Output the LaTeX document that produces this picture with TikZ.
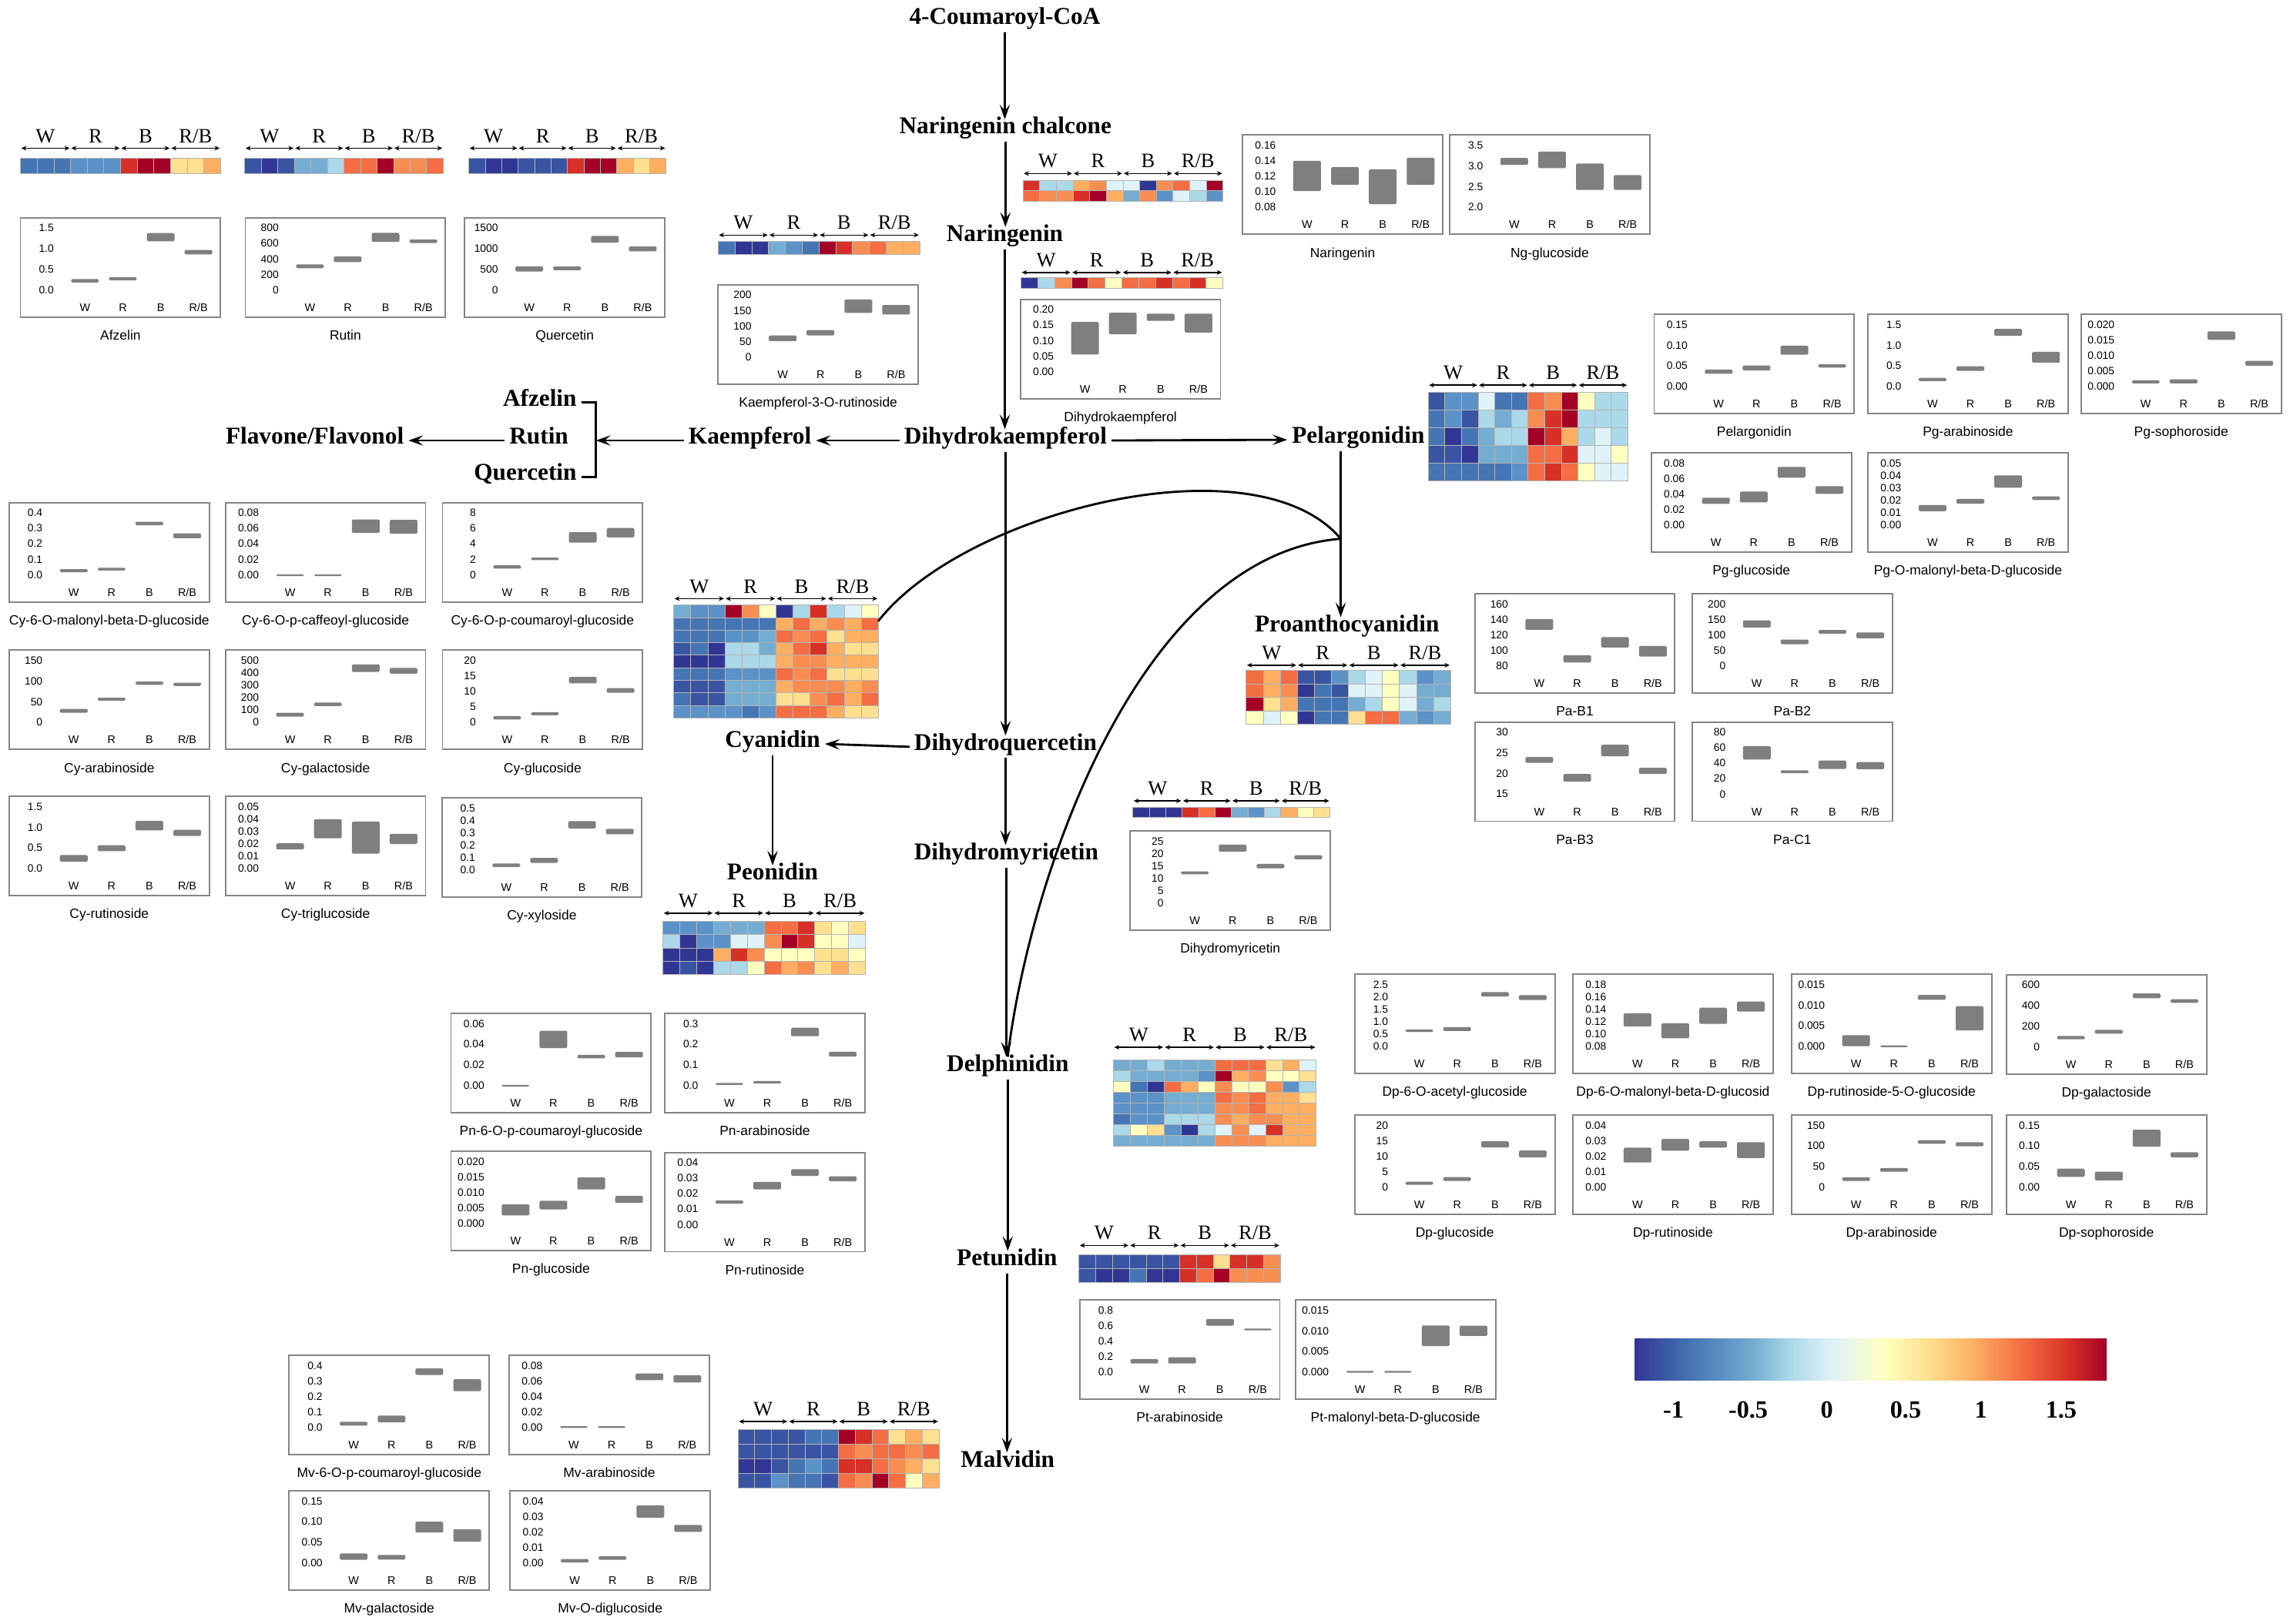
\documentclass[tikz,border=0pt]{standalone}
\usepackage{fontspec}
\setmainfont{Liberation Serif}
\setsansfont{Liberation Sans}
\usetikzlibrary{arrows.meta}
\definecolor{hm0}{HTML}{313695}
\definecolor{hm1}{HTML}{3A54A4}
\definecolor{hm2}{HTML}{4575B4}
\definecolor{hm3}{HTML}{5B92C8}
\definecolor{hm4}{HTML}{74ADD1}
\definecolor{hm5}{HTML}{ABD9E9}
\definecolor{hm6}{HTML}{E0F3F8}
\definecolor{hm7}{HTML}{FFFFBF}
\definecolor{hm8}{HTML}{FEE090}
\definecolor{hm9}{HTML}{FDAE61}
\definecolor{hm10}{HTML}{F88D52}
\definecolor{hm11}{HTML}{F46D43}
\definecolor{hm12}{HTML}{D73027}
\definecolor{hm13}{HTML}{A50026}
\definecolor{gridc}{HTML}{B4B4B4}
\definecolor{frmc}{HTML}{858585}
\definecolor{boxc}{HTML}{7F7F7F}
\pgfdeclarehorizontalshading{cbar}{100bp}{color(0bp)=(hm0); color(25bp)=(hm0); color(31bp)=(hm2); color(37.5bp)=(hm4); color(41.5bp)=(hm5); color(46bp)=(hm6); color(51.5bp)=(hm7); color(56bp)=(hm8); color(61bp)=(hm9); color(66bp)=(hm11); color(71bp)=(hm12); color(75bp)=(hm13); color(100bp)=(hm13)}
\tikzset{
 pw/.style={font=\bfseries\fontsize{16.5}{18}\selectfont, inner sep=3pt, text height=0.68em, text depth=0.22em},
 arr/.style={line width=1.5pt, -{Stealth[length=10pt,width=7pt,inset=4pt]}},
 crv/.style={line width=1.5pt},
 brk/.style={line width=1.5pt},
 frm/.style={draw=frmc, line width=1pt},
 bx/.style={fill=boxc, rounded corners=0.8pt},
 tkl/.style={font=\sffamily\fontsize{7.3}{8}\selectfont, anchor=east, inner sep=0pt},
 xlab/.style={font=\sffamily\fontsize{7.6}{8}\selectfont, anchor=base, inner sep=0pt},
 capt/.style={font=\sffamily\fontsize{9.2}{10}\selectfont, anchor=base, inner sep=0pt},
 cell/.style={draw=gridc, line width=0.35pt},
 hma/.style={line width=0.8pt, {Stealth[length=3.5pt,width=3.2pt]}-{Stealth[length=3.5pt,width=3.2pt]}},
 hml/.style={font=\fontsize{14}{16}\selectfont, anchor=base, inner sep=0pt},
 cbl/.style={font=\bfseries\fontsize{17}{19}\selectfont, anchor=base, inner sep=0pt},
}
% box plot: id, x0, y0, vmin, vmax, ticks, boxes, caption
\newcommand{\bxp}[8]{%
 \pgfmathsetmacro\bk{42.3/(#5-#4)}%
 \draw[frm] (#2,#3) rectangle ++(137,68);
 \foreach \tv [count=\tn] in {#6}{%
   \pgfmathsetmacro\ty{#3+49.4-(\tv-#4)*\bk}%
   \node[tkl] (#1-t\tn) at (#2+23,\ty) {\tv};
 }
 \foreach \blo/\bhi [count=\kk from 0] in {#7}{%
   \pgfmathsetmacro\xa{#2+44.2+25.9*\kk-9.5}%
   \pgfmathsetmacro\ya{#3+49.4-(\bhi-#4)*\bk}%
   \pgfmathsetmacro\yb{max(#3+49.4-(\blo-#4)*\bk,\ya+1.2)}%
   \fill[bx] (\xa,\ya) rectangle (\xa+19,\yb);
 }
 \foreach \gl [count=\kk from 0] in {W,R,B,R/B}{%
   \node[xlab] (#1-x\kk) at (#2+44.2+25.9*\kk,#3+64.1) {\gl};
 }
 \node[capt] (#1-c) at (#2+68.5,#3+83.7) {#8};
}
% heatmap: id, x0, y0, width, row height, arrow offset, rows
\newcommand{\hmp}[7]{%
 \pgfmathsetmacro\cw{#4/12}%
 \pgfmathsetmacro\qw{#4/4}%
 \foreach \row [count=\rr from 0] in {#7}{%
   \foreach \cc [count=\kk from 0] in \row {%
     \filldraw[cell, fill=hm\cc] ({#2+\kk*\cw},{#3+\rr*#5}) rectangle ++(\cw,#5);
   }
 }
 \foreach \gl [count=\kk from 0] in {W,R,B,R/B}{%
   \draw[hma] ({#2+\kk*\qw+0.6},{#3-#6}) -- ({#2+\kk*\qw+\qw-0.6},{#3-#6});
   \node[hml] (#1-l\kk) at ({#2+\kk*\qw+0.5*\qw},{#3-#6-8.5+4.6}) {\gl};
 }
}
\begin{document}
\begin{tikzpicture}[x=1pt,y=-1pt]
\useasboundingbox (0,0) rectangle (1568,1112);
\fill[white] (0,0) rectangle (1568,1112);

% ---------- heatmaps ----------
\hmp{h-afz}{14}{108.5}{137}{10.2}{7}{{2,2,2,3,3,3,12,13,13,8,8,9}}
\hmp{h-rut}{167.6}{108.5}{135.8}{10.2}{7}{{1,0,1,4,4,5,11,11,13,10,10,11}}
\hmp{h-que}{321}{108.5}{135}{10.2}{7}{{1,0,0,1,1,1,12,13,13,9,8,9}}
\hmp{h-chal}{700.4}{123.4}{137}{7.1}{4.6}{{12,5,5,9,10,6,6,0,10,11,6,13},{11,10,10,12,13,9,4,10,3,6,5,3}}
\hmp{h-kae}{491.7}{165.2}{138}{8.8}{4.2}{{2,0,0,4,3,2,13,12,10,11,9,9}}
\hmp{h-dhk}{699}{190.2}{138.3}{7}{3.6}{{0,5,10,13,11,7,11,11,12,11,12,7}}
\hmp{h-pel}{977.9}{268.6}{136.7}{12.1}{4.8}{{1,3,3,6,2,2,11,10,13,7,5,5},{2,3,1,5,4,5,10,12,13,5,5,5},{2,0,2,4,5,5,13,12,9,5,6,5},{1,1,0,4,4,4,11,11,12,6,6,7},{2,2,2,2,2,3,11,12,11,7,6,6}}
\hmp{h-cya}{461.3}{414.3}{140}{8.6}{4.3}{{4,3,3,13,10,7,0,5,12,5,6,7},{2,2,2,2,2,2,9,11,9,10,9,11},{2,2,2,3,3,4,11,10,11,8,9,9},{1,2,0,5,5,4,9,11,12,9,8,8},{0,0,0,5,5,5,9,10,10,9,9,9},{2,2,2,3,3,3,11,10,11,8,8,8},{1,1,1,4,4,4,9,10,10,10,9,10},{2,1,1,4,4,4,8,8,10,11,9,11},{3,3,3,3,2,3,11,11,11,9,8,8}}
\hmp{h-proa}{853.2}{459.2}{140}{9.2}{3.6}{{11,9,11,1,1,3,5,6,7,5,3,4},{11,9,10,0,2,1,6,6,7,6,4,4},{13,8,9,2,2,2,4,5,7,6,4,5},{7,6,7,0,2,2,8,11,11,4,3,4}}
\hmp{h-peo}{453.9}{631}{138.6}{9.1}{5.6}{{3,3,3,4,4,4,11,11,12,8,7,8},{5,0,3,3,6,6,10,13,12,7,7,6},{0,0,0,9,12,10,7,7,7,8,8,7},{0,1,0,5,5,7,11,9,10,8,9,8}}
\hmp{h-dhm}{775.7}{552.9}{135}{7.1}{4.4}{{0,0,0,12,11,13,4,3,5,9,7,8}}
\hmp{h-dlp}{762.3}{726.1}{138.9}{7.36}{8.8}{{4,4,5,4,4,4,11,11,11,8,9,6},{5,4,4,4,4,3,13,9,10,7,7,8},{7,2,0,11,9,7,10,7,7,10,3,5},{3,3,3,4,4,4,11,10,11,9,9,8},{3,3,3,4,4,4,10,10,11,9,9,9},{2,3,3,5,5,5,10,9,10,10,9,9},{5,7,8,3,0,5,6,10,6,12,9,9},{4,4,4,4,4,4,10,10,10,9,9,9}}
\hmp{h-pet}{738.8}{859.3}{137.8}{9.4}{6.3}{{1,1,1,1,1,1,12,12,8,12,12,10},{1,0,0,2,0,0,12,11,13,10,10,10}}
\hmp{h-mal}{505.3}{979.2}{137.6}{10}{5.6}{{1,1,1,1,2,2,13,12,11,8,9,8},{1,1,1,1,1,1,11,10,11,11,10,11},{0,0,1,2,3,2,12,12,11,10,9,8},{1,1,3,2,2,1,11,10,13,11,7,9}}

% ---------- box plots ----------
\bxp{b-afz}{14}{149.1}{0}{1.5}{1.5,1.0,0.5,0.0}{0.18/0.26,0.23/0.31,1.18/1.38,0.86/0.97}{Afzelin}
\bxp{b-rut}{168}{149.1}{0}{800}{800,600,400,200,0}{280/329,359/431,622/737,606/652}{Rutin}
\bxp{b-que}{318.2}{149.1}{0}{1500}{1500,1000,500,0}{446/570,477/564,1147/1308,936/1054}{Quercetin}
\bxp{b-k3r}{491.7}{195}{0}{200}{200,150,100,50,0}{51/69,69/87,142/186,137/168}{Kaempferol-3-O-rutinoside}
\bxp{b-dhk}{698.7}{205}{0}{0.2}{0.20,0.15,0.10,0.05,0.00}{0.055/0.16,0.12/0.19,0.164/0.187,0.126/0.187}{Dihydrokaempferol}
\bxp{b-nar}{850.8}{92.5}{0.08}{0.16}{0.16,0.14,0.12,0.10,0.08}{0.101/0.14,0.109/0.132,0.084/0.129,0.109/0.144}{Naringenin}
\bxp{b-ngg}{992.6}{92.5}{2.0}{3.5}{3.5,3.0,2.5,2.0}{3.026/3.196,2.948/3.351,2.42/3.061,2.42/2.778}{Ng-glucoside}
\bxp{b-pel}{1132.6}{215.3}{0}{0.15}{0.15,0.10,0.05,0.00}{0.031/0.041,0.039/0.051,0.077/0.099,0.046/0.054}{Pelargonidin}
\bxp{b-pga}{1279}{215.3}{0}{1.5}{1.5,1.0,0.5,0.0}{0.13/0.21,0.38/0.49,1.23/1.40,0.58/0.84}{Pg-arabinoside}
\bxp{b-pgs}{1425}{215.3}{0}{0.02}{0.020,0.015,0.010,0.005,0.000}{0.001/0.002,0.001/0.0023,0.0151/0.0178,0.0067/0.0083}{Pg-sophoroside}
\bxp{b-pgg}{1130.7}{310}{0}{0.08}{0.08,0.06,0.04,0.02,0.00}{0.027/0.035,0.029/0.043,0.061/0.075,0.040/0.050}{Pg-glucoside}
\bxp{b-pgm}{1279}{310}{0}{0.05}{0.05,0.04,0.03,0.02,0.01,0.00}{0.011/0.016,0.017/0.021,0.030/0.040,0.020/0.023}{Pg-O-malonyl-beta-D-glucoside}
\bxp{b-cy1}{6.3}{344.2}{0}{0.4}{0.4,0.3,0.2,0.1,0.0}{0.016/0.036,0.027/0.044,0.32/0.343,0.236/0.268}{Cy-6-O-malonyl-beta-D-glucoside}
\bxp{b-cy2}{154.4}{344.2}{0}{0.08}{0.08,0.06,0.04,0.02,0.00}{0/0.0005,0/0.0005,0.054/0.0715,0.053/0.071}{Cy-6-O-p-caffeoyl-glucoside}
\bxp{b-cy3}{303}{344.2}{0}{8}{8,6,4,2,0}{0.78/1.21,1.88/2.2,4.16/5.51,4.84/6.04}{Cy-6-O-p-coumaroyl-glucoside}
\bxp{b-cy4}{6.3}{445.3}{0}{150}{150,100,50,0}{23/32.5,52.4/59.7,90.9/98.9,88.3/96.2}{Cy-arabinoside}
\bxp{b-cy5}{154.4}{445.3}{0}{500}{500,400,300,200,100,0}{46/77,131/159,407/469,394/440}{Cy-galactoside}
\bxp{b-cy6}{303}{445.3}{0}{20}{20,15,10,5,0}{0.88/2.04,2.3/3.27,12.65/14.7,9.56/11.06}{Cy-glucoside}
\bxp{b-cy7}{6.3}{545.4}{0}{1.5}{1.5,1.0,0.5,0.0}{0.16/0.325,0.418/0.564,0.923/1.155,0.79/0.936}{Cy-rutinoside}
\bxp{b-cy8}{154.4}{545.4}{0}{0.05}{0.05,0.04,0.03,0.02,0.01,0.00}{0.0154/0.0203,0.0244/0.0399,0.0119/0.0379,0.0198/0.028}{Cy-triglucoside}
\bxp{b-cy9}{302.5}{546.3}{0}{0.5}{0.5,0.4,0.3,0.2,0.1,0.0}{0.022/0.05,0.055/0.096,0.335/0.393,0.287/0.331}{Cy-xyloside}
\bxp{b-pb1}{1009.8}{406.6}{80}{160}{160,140,120,100,80}{126.7/140.6,84.3/93.8,103.7/117.2,91.9/105.7}{Pa-B1}
\bxp{b-pb2}{1158.7}{406.6}{0}{200}{200,150,100,50,0}{124/147,70/85,104/116,89/108}{Pa-B2}
\bxp{b-pb3}{1009.8}{494.5}{15}{30}{30,25,20,15}{22.6/24.0,18.0/19.9,24.2/27.0,19.9/21.4}{Pa-B3}
\bxp{b-pc1}{1158.7}{494.5}{0}{80}{80,60,40,20,0}{44.8/62.2,27/30.9,32.6/43.5,32.3/41.5}{Pa-C1}
\bxp{b-dhm}{773.9}{569.2}{0}{25}{25,20,15,10,5,0}{11.73/12.86,20.8/23.7,14.1/15.9,17.8/19.4}{Dihydromyricetin}
\bxp{b-pn1}{308.8}{694}{0}{0.06}{0.06,0.04,0.02,0.00}{0/0.0005,0.0362/0.0531,0.0264/0.0296,0.0272/0.0325}{Pn-6-O-p-coumaroyl-glucoside}
\bxp{b-pn2}{455.2}{694}{0}{0.3}{0.3,0.2,0.1,0.0}{0.0026/0.0119,0.009/0.021,0.239/0.28,0.14/0.163}{Pn-arabinoside}
\bxp{b-pn3}{308.8}{788.5}{0}{0.02}{0.020,0.015,0.010,0.005,0.000}{0.00256/0.00617,0.0045/0.0073,0.011/0.0149,0.0066/0.0089}{Pn-glucoside}
\bxp{b-pn4}{455.2}{789.3}{0}{0.04}{0.04,0.03,0.02,0.01,0.00}{0.0135/0.0157,0.0227/0.0276,0.0315/0.0358,0.028/0.0312}{Pn-rutinoside}
\bxp{b-dp1}{927.6}{667.2}{0}{2.5}{2.5,2.0,1.5,1.0,0.5,0.0}{0.579/0.682,0.62/0.775,2.01/2.19,1.87/2.07}{Dp-6-O-acetyl-glucoside}
\bxp{b-dp2}{1077}{667.2}{0.08}{0.18}{0.18,0.16,0.14,0.12,0.10,0.08}{0.1122/0.1333,0.0928/0.1172,0.1164/0.1424,0.1362/0.1523}{Dp-6-O-malonyl-beta-D-glucosid}
\bxp{b-dp3}{1226.7}{667.2}{0}{0.015}{0.015,0.010,0.005,0.000}{0/0.0027,0/0.0002,0.01128/0.01246,0.00384/0.00973}{Dp-rutinoside-5-O-glucoside}
\bxp{b-dp4}{1373.8}{667.5}{0}{600}{600,400,200,0}{72/104,126/164,471/518,426/461}{Dp-galactoside}
\bxp{b-dp5}{927.6}{763.6}{0}{20}{20,15,10,5,0}{0.74/1.74,1.98/3.22,12.8/14.8,9.6/11.8}{Dp-glucoside}
\bxp{b-dp6}{1077}{763.6}{0}{0.04}{0.04,0.03,0.02,0.01,0.00}{0.0159/0.0255,0.0235/0.0311,0.0255/0.0296,0.0188/0.029}{Dp-rutinoside}
\bxp{b-dp7}{1226.7}{763.6}{0}{150}{150,100,50,0}{14.8/23.5,37/46.3,105/114,98.8/108.6}{Dp-arabinoside}
\bxp{b-dp8}{1373.8}{763.6}{0}{0.15}{0.15,0.10,0.05,0.00}{0.0248/0.0446,0.0161/0.0372,0.098/0.139,0.0719/0.0843}{Dp-sophoroside}
\bxp{b-pt1}{739.3}{890.4}{0}{0.8}{0.8,0.6,0.4,0.2,0.0}{0.112/0.169,0.112/0.192,0.602/0.688,0.549/0.565}{Pt-arabinoside}
\bxp{b-pt2}{887}{890.4}{0}{0.015}{0.015,0.010,0.005,0.000}{0/0.0003,0/0.0003,0.00632/0.01134,0.0088/0.01128}{Pt-malonyl-beta-D-glucoside}
\bxp{b-mv1}{198}{928.2}{0}{0.4}{0.4,0.3,0.2,0.1,0.0}{0.0115/0.036,0.0328/0.0754,0.339/0.382,0.234/0.311}{Mv-6-O-p-coumaroyl-glucoside}
\bxp{b-mv2}{348.7}{928.2}{0}{0.08}{0.08,0.06,0.04,0.02,0.00}{0/0.0016,0/0.0016,0.061/0.0698,0.058/0.0675}{Mv-arabinoside}
\bxp{b-mv3}{198}{1021}{0}{0.15}{0.15,0.10,0.05,0.00}{0.0074/0.0229,0.008/0.0192,0.0738/0.0998,0.0514/0.0818}{Mv-galactoside}
\bxp{b-mv4}{349.3}{1021}{0}{0.04}{0.04,0.03,0.02,0.01,0.00}{0.0002/0.0025,0.002/0.0043,0.0293/0.0372,0.02/0.0245}{Mv-O-diglucoside}

% ---------- pathway ----------
\node[pw] (coum) at (688,14.2) {4-Coumaroyl-CoA};
\node[pw] (chal) at (688.4,89.4) {Naringenin chalcone};
\node[pw] (nar) at (688,163.2) {Naringenin};
\node[pw] (dhk) at (688.5,301.7) {Dihydrokaempferol};
\node[pw] (kae) at (513.5,301.7) {Kaempferol};
\node[pw,anchor=east] (afz) at (398,275.7) {Afzelin};
\node[pw] (rut) at (369,301.7) {Rutin};
\node[pw,anchor=east] (que) at (398,326.7) {Quercetin};
\node[pw] (fla) at (215.5,301.7) {Flavone/Flavonol};
\node[pw] (pel) at (930,301.2) {Pelargonidin};
\node[pw] (proa) at (922.3,430.4) {Proanthocyanidin};
\node[pw] (cya) at (529,509.5) {Cyanidin};
\node[pw] (dhq) at (688.5,511.5) {Dihydroquercetin};
\node[pw] (peo) at (529,600.5) {Peonidin};
\node[pw] (dhm) at (689,586.5) {Dihydromyricetin};
\node[pw] (dlp) at (690,731.5) {Delphinidin};
\node[pw] (pet) at (689.5,864.5) {Petunidin};
\node[pw] (mal) at (690,1002.5) {Malvidin};

\coordinate (brx) at (408,301.7);
\coordinate (jn) at (918,369);
\coordinate (cyr) at (601.3,425.5);

\draw[arr] (coum.south) -- (coum.south |- chal.north);
\draw[arr] (chal.south) -- (chal.south |- nar.north);
\draw[arr] (nar.south) -- (nar.south |- dhk.north);
\draw[arr] (dhk.south) -- (dhk.south |- dhq.north);
\draw[arr] (dhq.south) -- (dhq.south |- dhm.north);
\draw[arr] (dhm.south) -- (dhm.south |- dlp.north);
\draw[arr] (dlp.south) -- (dlp.south |- pet.north);
\draw[arr] (pet.south) -- (pet.south |- mal.north);
\draw[arr] (dhk.west) -- (kae.east);
\draw[arr] (kae.west) -- (brx);
\draw[brk] (afz.east) -- (afz.east -| brx) -- (que.east -| brx) -- (que.east);
\draw[arr] (rut.west) -- (fla.east);
\draw[arr] (dhk.east) -- (pel.west);
\draw[arr] (dhq.west) -- (cya.east);
\draw[arr] (cya.south) -- (cya.south |- peo.north);
\draw[arr] (jn |- pel.south) -- (jn |- proa.north);
\draw[crv] (cyr) .. controls (660,350) and (860,300) .. (jn);
\draw[crv] (dlp.north) .. controls (705,600) and (780,380) .. (jn);

% ---------- colour bar ----------
\shade[shading=cbar] (1119.4,916.9) rectangle (1442.4,945.4);
\node[cbl] (cb1) at (1145.8,971) {-1};
\node[cbl] (cb2) at (1197,971) {-0.5};
\node[cbl] (cb3) at (1250.8,971) {0};
\node[cbl] (cb4) at (1304.8,971) {0.5};
\node[cbl] (cb5) at (1356.3,971) {1};
\node[cbl] (cb6) at (1411.3,971) {1.5};
\end{tikzpicture}
\end{document}
